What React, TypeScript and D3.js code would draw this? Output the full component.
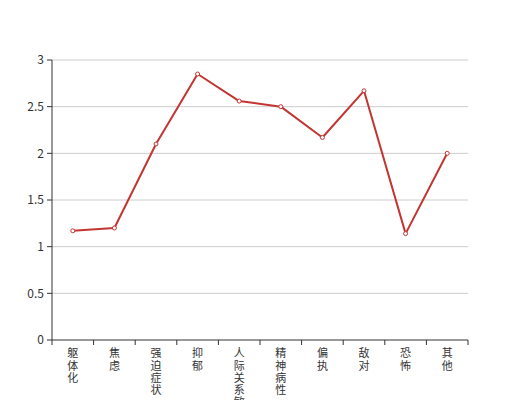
import React from "react";
import * as d3 from "d3";

const categories = ["躯体化", "焦虑", "强迫症状", "抑郁", "人际关系敏感", "精神病性", "偏执", "敌对", "恐怖", "其他"];
const values = [1.17, 1.2, 2.1, 2.85, 2.56, 2.5, 2.17, 2.67, 1.14, 2.0];
const yTicks = [0, 0.5, 1, 1.5, 2, 2.5, 3];

const W = 520, H = 400;
const left = 52, right = 468, top = 60, bottom = 340;

export default function App() {
  const x = d3.scaleBand<string>().domain(categories).range([left, right]);
  const y = d3.scaleLinear().domain([0, 3]).range([bottom, top]);
  const line = d3.line<number>()
    .x((_, i) => (x(categories[i]) as number) + x.bandwidth() / 2)
    .y((d) => y(d));
  const font = "'Microsoft YaHei', 'Noto Sans CJK SC', sans-serif";
  const boundaries = categories.map((c) => x(c) as number).concat([right]);
  return (
    <svg width={W} height={H} style={{ position: "absolute", left: 0, top: 0, background: "#fff" }} fontFamily={font}>
      {yTicks.map((t) => (
        <g key={t}>
          {t !== 0 && <line x1={left} x2={right} y1={y(t)} y2={y(t)} stroke="#ccc" strokeWidth={1} />}
          <line x1={left - 5} x2={left} y1={y(t)} y2={y(t)} stroke="#333" />
          <text x={left - 8} y={y(t)} dy="0.35em" textAnchor="end" fontSize={12} fill="#333">{t}</text>
        </g>
      ))}
      <line x1={left} x2={left} y1={top} y2={bottom} stroke="#333" />
      <line x1={left} x2={right} y1={bottom} y2={bottom} stroke="#333" />
      {boundaries.map((b, i) => (
        <line key={i} x1={b} x2={b} y1={bottom} y2={bottom + 5} stroke="#333" />
      ))}
      {categories.map((c) => (
        <text key={c} x={(x(c) as number) + x.bandwidth() / 2} y={bottom + 7} fontSize={11} fill="#333" textAnchor="middle">
          {Array.from(c).map((ch, j) => (
            <tspan key={j} x={(x(c) as number) + x.bandwidth() / 2} dy={j === 0 ? "0.95em" : 12.2}>{ch}</tspan>
          ))}
        </text>
      ))}
      <path d={line(values) || ""} fill="none" stroke="#c23531" strokeWidth={2} strokeLinejoin="round" />
      {values.map((v, i) => (
        <circle key={i} cx={(x(categories[i]) as number) + x.bandwidth() / 2} cy={y(v)} r={2} fill="#fff" stroke="#c23531" strokeWidth={1} />
      ))}
    </svg>
  );
}
